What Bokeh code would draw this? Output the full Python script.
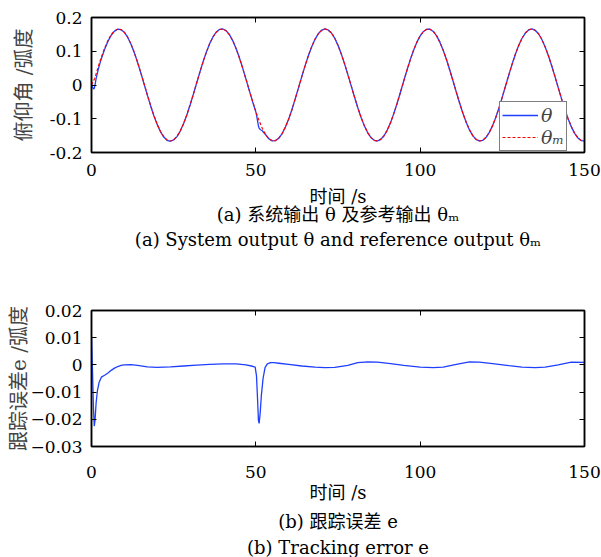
from bokeh.plotting import figure
from bokeh.models import (Range1d, FixedTicker, CustomJSTickFormatter, LinearAxis,
                          Title, Legend, LegendItem, CustomLabelingPolicy)
from bokeh.layouts import column
from bokeh.embed import file_html
from bokeh.resources import INLINE

# ---------------- data ----------------
time_m = list(range(0, 151))
theta_m = [
    0.0000, 0.0199, 0.0522, 0.0825, 0.1095, 0.1321, 0.1494, 0.1608, 0.1658, 0.1642,
    0.1560, 0.1415, 0.1214, 0.0967, 0.0678, 0.0364, 0.0036, -0.0295, -0.0613, -0.0909,
    -0.1165, -0.1378, -0.1534, -0.1630, -0.1660, -0.1622, -0.1524, -0.1362, -0.1145, -0.0885,
    -0.0589, -0.0270, 0.0061, 0.0389, 0.0702, 0.0987, 0.1233, 0.1429, 0.1568, 0.1645,
    0.1656, 0.1602, 0.1484, 0.1305, 0.1076, 0.0804, 0.0499, 0.0174, -0.0158, -0.0482,
    -0.0788, -0.1062, -0.1292, -0.1474, -0.1598, -0.1655, -0.1647, -0.1574, -0.1439, -0.1247,
    -0.1006, -0.0725, -0.0405, -0.0077, 0.0254, 0.0575, 0.0873, 0.1136, 0.1354, 0.1518,
    0.1621, 0.1660, 0.1632, 0.1541, 0.1387, 0.1177, 0.0921, 0.0627, 0.0309, -0.0020,
    -0.0349, -0.0665, -0.0955, -0.1204, -0.1408, -0.1553, -0.1638, -0.1659, -0.1611, -0.1505,
    -0.1335, -0.1114, -0.0841, -0.0539, -0.0215, 0.0117, 0.0443, 0.0752, 0.1031, 0.1269,
    0.1456, 0.1586, 0.1652, 0.1652, 0.1586, 0.1457, 0.1270, 0.1032, 0.0754, 0.0445,
    0.0118, -0.0213, -0.0535, -0.0837, -0.1106, -0.1330, -0.1500, -0.1610, -0.1658, -0.1641,
    -0.1557, -0.1412, -0.1211, -0.0963, -0.0674, -0.0352, -0.0021, 0.0309, 0.0627, 0.0920,
    0.1176, 0.1385, 0.1539, 0.1632, 0.1660, 0.1621, 0.1518, 0.1355, 0.1136, 0.0874,
    0.0576, 0.0255, -0.0076, -0.0404, -0.0716, -0.0999, -0.1240, -0.1434, -0.1570, -0.1647,
    -0.1655,
]

time_th = ([0, 0.3, 0.6, 0.85, 1.1, 1.4, 1.8, 2.3] + list(range(3, 51))
           + [50.2, 50.5, 50.8, 51, 51.3, 51.7, 52, 52.2, 52.8] + list(range(53, 151)))
theta = [
    0.004, -0.006, -0.012, -0.010, 0.002, 0.019, 0.036, 0.055,
    0.0780, 0.1057, 0.1291, 0.1474, 0.1596, 0.1652, 0.1640, 0.1560, 0.1416, 0.1215,
    0.0966, 0.0676, 0.0360, 0.0030, -0.0301, -0.0620, -0.0917, -0.1174, -0.1387, -0.1542,
    -0.1638, -0.1667, -0.1628, -0.1529, -0.1366, -0.1149, -0.0888, -0.0591, -0.0271, 0.0060,
    0.0389, 0.0703, 0.0989, 0.1236, 0.1432, 0.1572, 0.1649, 0.1660, 0.1606, 0.1488,
    0.1309, 0.1080, 0.0807, 0.0501, 0.0174, -0.0161, -0.0487, -0.0796,
    -0.0888, -0.1051, -0.1217, -0.1277, -0.1318, -0.1341, -0.1357, -0.1386, -0.1454,
    -0.1474, -0.1598, -0.1655, -0.1647, -0.1574, -0.1439, -0.1247,
    -0.1006, -0.0725, -0.0405, -0.0077, 0.0254, 0.0575, 0.0873, 0.1136, 0.1354, 0.1518,
    0.1621, 0.1660, 0.1632, 0.1541, 0.1387, 0.1177, 0.0921, 0.0627, 0.0309, -0.0020,
    -0.0349, -0.0665, -0.0955, -0.1204, -0.1408, -0.1553, -0.1638, -0.1659, -0.1611, -0.1505,
    -0.1335, -0.1114, -0.0841, -0.0539, -0.0215, 0.0117, 0.0443, 0.0752, 0.1031, 0.1269,
    0.1456, 0.1586, 0.1652, 0.1652, 0.1586, 0.1457, 0.1270, 0.1032, 0.0754, 0.0445,
    0.0118, -0.0213, -0.0535, -0.0837, -0.1106, -0.1330, -0.1500, -0.1610, -0.1658, -0.1641,
    -0.1557, -0.1412, -0.1211, -0.0963, -0.0674, -0.0352, -0.0021, 0.0309, 0.0627, 0.0920,
    0.1176, 0.1385, 0.1539, 0.1632, 0.1660, 0.1621, 0.1518, 0.1355, 0.1136, 0.0874,
    0.0576, 0.0255, -0.0076, -0.0404, -0.0716, -0.0999, -0.1240, -0.1434, -0.1570, -0.1647,
    -0.1655,
]

time_e = [0, 0.3, 0.6, 0.85, 1.1, 1.4, 1.8, 2.3, 3, 4, 5, 6, 7, 8, 9, 10, 12, 14, 17, 20,
          24, 28, 32, 36, 40, 44, 47, 49, 49.8, 50.2, 50.5, 50.8, 51.0, 51.3, 51.7, 52.2,
          52.8, 53.5, 54.5, 55.5, 57, 60, 64, 68, 71, 74, 78, 81, 84, 87, 91, 95, 100, 104,
          107, 111, 115, 118, 122, 127, 131, 135, 138, 142, 146, 150]
err = [0.0100, -0.0020, -0.0160, -0.0225, -0.0200, -0.0140, -0.0095, -0.0065, -0.0045,
       -0.0038, -0.0030, -0.0020, -0.0012, -0.0006, -0.0002, 0.0000, 0.0001, -0.0002,
       -0.0007, -0.0009, -0.0007, -0.0004, -0.0001, 0.0002, 0.0004, 0.0004, 0.0000,
       -0.0005, -0.0008, -0.0040, -0.0120, -0.0205, -0.0215, -0.0180, -0.0110, -0.0050,
       -0.0010, 0.0004, 0.0008, 0.0008, 0.0006, 0.0002, -0.0004, -0.0008, -0.0010,
       -0.0009, -0.0002, 0.0008, 0.0011, 0.0010, 0.0005, -0.0002, -0.0008, -0.0010,
       -0.0008, 0.0002, 0.0011, 0.0010, 0.0005, -0.0003, -0.0008, -0.0010, -0.0008,
       0.0000, 0.0010, 0.0009]

x_ticks = [0, 50, 100, 150]
y1_ticks = [-0.2, -0.1, 0, 0.1, 0.2]
y2_ticks = [-0.03, -0.02, -0.01, 0, 0.01, 0.02]

ylabel1 = "俯仰角 /弧度"
ylabel2 = "跟踪误差e /弧度"
xlabel = "时间 /s"
cap_a_cn = "(a) 系统输出 θ 及参考输出 θₘ"
cap_a_en = "(a) System output θ and reference output θₘ"
cap_b_cn = "(b) 跟踪误差 e"
cap_b_en = "(b) Tracking error e"

# ---------------- styling ----------------
FONT = "'DejaVu Serif', 'Noto Sans CJK SC'"
TICK_FS = "17px"
CAP_FS = "18px"
BLUE = "#1f3fff"

fmt1 = CustomJSTickFormatter(code="""
if (Math.abs(tick) < 1e-9) return "0";
return tick.toFixed(1);
""")
fmt2 = CustomJSTickFormatter(code="""
if (Math.abs(tick) < 1e-9) return "0";
return (tick < 0 ? "\\u2212" : "") + Math.abs(tick).toFixed(2);
""")
no_labels = CustomLabelingPolicy(code="""
for (const i of indices) { indices.unset(i) }
return indices
""")


def style_axis(ax, ticks, show=True, fmt=None, standoff=8):
    ax.ticker = FixedTicker(ticks=ticks)
    ax.minor_tick_line_color = None
    ax.major_tick_in = 5
    ax.major_tick_out = 0
    ax.major_tick_line_color = "black"
    ax.major_tick_line_width = 1
    ax.axis_line_color = "black"
    ax.axis_line_width = 1.5
    if fmt is not None:
        ax.formatter = fmt
    if show:
        ax.major_label_text_font = FONT
        ax.major_label_text_font_size = TICK_FS
        ax.major_label_text_color = "black"
        ax.major_label_standoff = standoff
    else:
        ax.major_label_policy = no_labels
        ax.major_label_text_font_size = "0px"
        ax.major_label_standoff = 0


def make_fig(height, top, bottom, yr, yticks, fmt, ylabel, x_standoff, ylab_standoff):
    p = figure(width=601, height=height, x_range=Range1d(0, 150), y_range=Range1d(*yr),
               output_backend="svg", toolbar_location=None,
               min_border_left=91, min_border_right=17,
               min_border_top=top, min_border_bottom=bottom)
    p.grid.visible = False
    p.outline_line_color = "black"
    p.outline_line_width = 1.5
    p.background_fill_color = "white"
    p.border_fill_color = "white"
    style_axis(p.below[0], x_ticks, standoff=x_standoff)
    style_axis(p.left[0], yticks, fmt=fmt, standoff=9)
    p.left[0].axis_label = ylabel
    p.left[0].axis_label_text_font = FONT
    p.left[0].axis_label_text_font_size = "20px"
    p.left[0].axis_label_text_font_style = "normal"
    p.left[0].axis_label_standoff = ylab_standoff
    ra = LinearAxis()
    style_axis(ra, yticks, show=False)
    p.add_layout(ra, "right")
    ta = LinearAxis()
    style_axis(ta, x_ticks, show=False)
    p.add_layout(ta, "above")
    return p


def add_caption(p, text, standoff):
    t = Title(text=text, align="center", standoff=standoff,
              text_font=FONT, text_font_size=CAP_FS, text_font_style="normal",
              text_color="black")
    p.add_layout(t, "below")


# ---------------- top figure ----------------
p1 = make_fig(261, 17, 108, (-0.2, 0.2), y1_ticks, fmt1, ylabel1, 11, 11)
r_th = p1.line(time_th, theta, line_color=BLUE, line_width=1.3)
r_m = p1.line(time_m, theta_m, line_color="red", line_width=1.2, line_dash="3 2")
leg = Legend(items=[LegendItem(label="θ", renderers=[r_th]),
                    LegendItem(label="θₘ", renderers=[r_m])],
             location=(408, 1), margin=0, padding=2, spacing=0,
             glyph_width=36, glyph_height=18, label_height=18, label_standoff=3,
             label_text_font="'DejaVu Serif'", label_text_font_style="italic",
             label_text_font_size="19px", label_text_line_height=1.0,
             border_line_color="black", border_line_width=1.5,
             background_fill_color="white", background_fill_alpha=1)
p1.add_layout(leg)
add_caption(p1, xlabel, 10)
add_caption(p1, cap_a_cn, -19)
add_caption(p1, cap_a_en, 23)

# ---------------- bottom figure ----------------
p2 = make_fig(296, 49, 111, (-0.03, 0.02), y2_ticks, fmt2, ylabel2, 19, -4)
p2.line(time_e, err, line_color=BLUE, line_width=1.3)
add_caption(p2, xlabel, -2)
add_caption(p2, cap_b_cn, 15)
add_caption(p2, cap_b_en, -10)

layout = column(p1, p2, spacing=0)
open("out.html", "w").write(file_html(layout, INLINE))
